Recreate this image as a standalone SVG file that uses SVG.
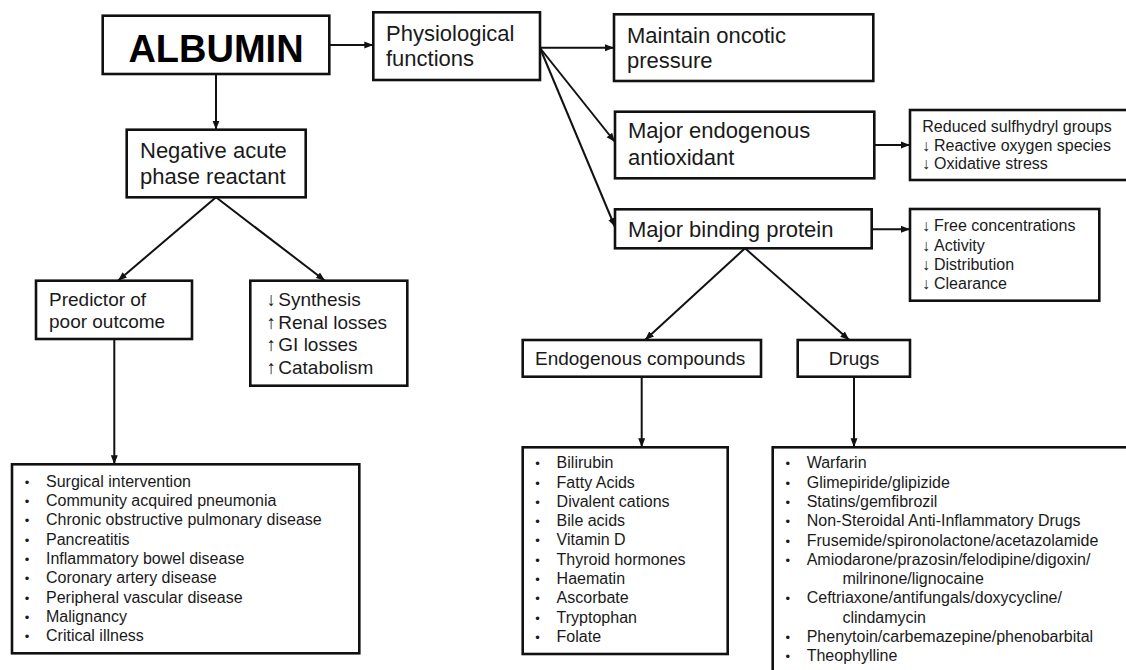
<svg xmlns="http://www.w3.org/2000/svg" width="1126" height="670" viewBox="0 0 1126 670">
<defs>
<marker id="ah" markerUnits="userSpaceOnUse" markerWidth="10" markerHeight="8" refX="9" refY="4" orient="auto">
<path d="M0,0.5 L9,4 L0,7.5 z" fill="#111"/>
</marker>
<style>
.box{fill:#fff;stroke:#111;stroke-width:2.6}
.ln{fill:none;stroke:#111;stroke-width:2;marker-end:url(#ah)}
text{font-family:"Liberation Sans",Arial,sans-serif;fill:#1a1a1a}
.big{font-size:38px;font-weight:bold;fill:#000}
.t22{font-size:22px}
.t19{font-size:19px}
.t16{font-size:16px}
.bul{font-size:13px;text-anchor:middle}
</style>
</defs>
<rect width="1126" height="670" fill="#fff"/>

<g id="connectors">
<line class="ln" x1="329.3" y1="45" x2="373.3" y2="45"/>
<line class="ln" x1="216" y1="74" x2="216" y2="129.7"/>
<line class="ln" x1="540" y1="47.7" x2="614" y2="47.7"/>
<line class="ln" x1="540" y1="48" x2="615" y2="142"/>
<line class="ln" x1="540" y1="48" x2="615" y2="227"/>
<line class="ln" x1="874.3" y1="145" x2="910" y2="145"/>
<line class="ln" x1="871.7" y1="229.3" x2="910" y2="229.3"/>
<line class="ln" x1="216" y1="197.3" x2="118" y2="280.7"/>
<line class="ln" x1="216" y1="197.3" x2="325" y2="280.7"/>
<line class="ln" x1="114.3" y1="339" x2="114.3" y2="464.3"/>
<line class="ln" x1="745" y1="248.3" x2="645" y2="340"/>
<line class="ln" x1="745" y1="248.3" x2="849.3" y2="340"/>
<line class="ln" x1="641.7" y1="376.7" x2="641.7" y2="447.3"/>
<line class="ln" x1="854" y1="376.7" x2="854" y2="447.3"/>
</g>

<g id="albumin">
<rect class="box" x="102.7" y="15.7" width="226.6" height="58.3"/>
<text class="big" x="216" y="61.5" text-anchor="middle">ALBUMIN</text>
</g>

<g id="physiological">
<rect class="box" x="373.3" y="12.3" width="166.7" height="67.7"/>
<text class="t22" x="386" y="40.7">Physiological</text>
<text class="t22" x="386" y="66">functions</text>
</g>

<g id="negative">
<rect class="box" x="126.7" y="129.7" width="179" height="67.6"/>
<text class="t22" x="140" y="158.3">Negative acute</text>
<text class="t22" x="140" y="184.3">phase reactant</text>
</g>

<g id="oncotic">
<rect class="box" x="614" y="14.3" width="259.3" height="66.7"/>
<text class="t22" x="627" y="43.3">Maintain oncotic</text>
<text class="t22" x="627" y="68.3">pressure</text>
</g>

<g id="antioxidant">
<rect class="box" x="615" y="111.7" width="259.3" height="66.6"/>
<text class="t22" x="628" y="138.3">Major endogenous</text>
<text class="t22" x="628" y="165">antioxidant</text>
</g>

<g id="binding">
<rect class="box" x="615" y="209.3" width="256.7" height="39"/>
<text class="t22" x="628" y="237.3">Major binding protein</text>
</g>

<g id="sulfhydryl">
<rect class="box" x="910" y="110" width="220" height="70"/>
<text class="t16" x="922.3" y="131.7">Reduced sulfhydryl groups</text>
<text class="t16" x="922" y="150.5">↓</text>
<text class="t16" x="934" y="150.5">Reactive oxygen species</text>
<text class="t16" x="922" y="169.3">↓</text>
<text class="t16" x="934" y="169.3">Oxidative stress</text>
</g>

<g id="free">
<rect class="box" x="910" y="209" width="189.3" height="91.7"/>
<text class="t16" x="922" y="231">↓</text>
<text class="t16" x="934" y="231">Free concentrations</text>
<text class="t16" x="922" y="250.5">↓</text>
<text class="t16" x="934" y="250.5">Activity</text>
<text class="t16" x="922" y="270">↓</text>
<text class="t16" x="934" y="270">Distribution</text>
<text class="t16" x="922" y="289.3">↓</text>
<text class="t16" x="934" y="289.3">Clearance</text>
</g>

<g id="predictor">
<rect class="box" x="36" y="280.7" width="156" height="58.3"/>
<text class="t19" x="49" y="306">Predictor of</text>
<text class="t19" x="49" y="328.3">poor outcome</text>
</g>

<g id="mechanisms">
<rect class="box" x="250.3" y="280.7" width="157" height="105"/>
<text class="t19" x="266.5" y="306">↓</text>
<text class="t19" x="278.3" y="306">Synthesis</text>
<text class="t19" x="266.5" y="328.5">↑</text>
<text class="t19" x="278.3" y="328.5">Renal losses</text>
<text class="t19" x="266.5" y="351">↑</text>
<text class="t19" x="278.3" y="351">GI losses</text>
<text class="t19" x="266.5" y="374">↑</text>
<text class="t19" x="278.3" y="374">Catabolism</text>
</g>

<g id="conditions">
<rect class="box" x="12" y="464.3" width="347.3" height="189"/>
<g class="bul">
<text x="27" y="486.7">•</text><text x="27" y="506">•</text><text x="27" y="525.3">•</text>
<text x="27" y="544.6">•</text><text x="27" y="563.9">•</text><text x="27" y="583.2">•</text>
<text x="27" y="602.5">•</text><text x="27" y="621.8">•</text><text x="27" y="641">•</text>
</g>
<text class="t16" x="46" y="486.7">Surgical intervention</text>
<text class="t16" x="46" y="506">Community acquired pneumonia</text>
<text class="t16" x="46" y="525.3">Chronic obstructive pulmonary disease</text>
<text class="t16" x="46" y="544.6">Pancreatitis</text>
<text class="t16" x="46" y="563.9">Inflammatory bowel disease</text>
<text class="t16" x="46" y="583.2">Coronary artery disease</text>
<text class="t16" x="46" y="602.5">Peripheral vascular disease</text>
<text class="t16" x="46" y="621.8">Malignancy</text>
<text class="t16" x="46" y="641">Critical illness</text>
</g>

<g id="endogenous">
<rect class="box" x="522.7" y="340" width="238.3" height="36.7"/>
<text class="t19" x="535" y="365.3">Endogenous compounds</text>
</g>

<g id="drugs">
<rect class="box" x="797.7" y="340" width="112.3" height="36.7"/>
<text class="t19" x="854" y="365.3" text-anchor="middle">Drugs</text>
</g>

<g id="endogenous-list">
<rect class="box" x="522.7" y="447.3" width="205" height="206.7"/>
<g class="bul">
<text x="537.6" y="468.3">•</text><text x="537.6" y="487.6">•</text><text x="537.6" y="506.8">•</text>
<text x="537.6" y="526.1">•</text><text x="537.6" y="545.4">•</text><text x="537.6" y="564.7">•</text>
<text x="537.6" y="583.9">•</text><text x="537.6" y="603.2">•</text><text x="537.6" y="622.5">•</text>
<text x="537.6" y="641.7">•</text>
</g>
<text class="t16" x="556.6" y="468.3">Bilirubin</text>
<text class="t16" x="556.6" y="487.6">Fatty Acids</text>
<text class="t16" x="556.6" y="506.8">Divalent cations</text>
<text class="t16" x="556.6" y="526.1">Bile acids</text>
<text class="t16" x="556.6" y="545.4">Vitamin D</text>
<text class="t16" x="556.6" y="564.7">Thyroid hormones</text>
<text class="t16" x="556.6" y="583.9">Haematin</text>
<text class="t16" x="556.6" y="603.2">Ascorbate</text>
<text class="t16" x="556.6" y="622.5">Tryptophan</text>
<text class="t16" x="556.6" y="641.7">Folate</text>
</g>

<g id="drug-list">
<rect class="box" x="772.7" y="447.3" width="360" height="230"/>
<g class="bul">
<text x="787.7" y="468.3">•</text><text x="787.7" y="487.6">•</text><text x="787.7" y="506.9">•</text>
<text x="787.7" y="526.2">•</text><text x="787.7" y="545.5">•</text><text x="787.7" y="564.8">•</text>
<text x="787.7" y="603.4">•</text><text x="787.7" y="642">•</text><text x="787.7" y="661.3">•</text>
</g>
<text class="t16" x="806.7" y="468.3">Warfarin</text>
<text class="t16" x="806.7" y="487.6">Glimepiride/glipizide</text>
<text class="t16" x="806.7" y="506.9">Statins/gemfibrozil</text>
<text class="t16" x="806.7" y="526.2">Non-Steroidal Anti-Inflammatory Drugs</text>
<text class="t16" x="806.7" y="545.5">Frusemide/spironolactone/acetazolamide</text>
<text class="t16" x="806.7" y="564.8">Amiodarone/prazosin/felodipine/digoxin/</text>
<text class="t16" x="842.4" y="584.1">milrinone/lignocaine</text>
<text class="t16" x="806.7" y="603.4">Ceftriaxone/antifungals/doxycycline/</text>
<text class="t16" x="842.4" y="622.7">clindamycin</text>
<text class="t16" x="806.7" y="642">Phenytoin/carbemazepine/phenobarbital</text>
<text class="t16" x="806.7" y="661.3">Theophylline</text>
</g>
</svg>
